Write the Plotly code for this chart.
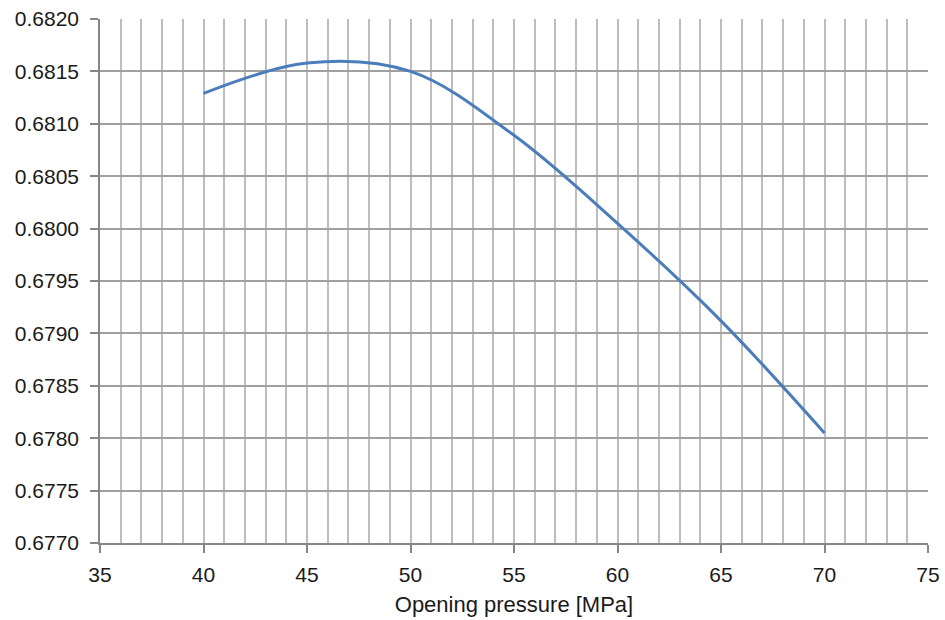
import plotly.graph_objects as go

pressure = [40, 45, 50, 55, 60, 65, 70]
ratio = [0.68129, 0.68158, 0.68150, 0.68089, 0.68005, 0.67912, 0.67805]

x_range = [35, 75]
y_range = [0.6770, 0.6820]
x_title = "Opening pressure [MPa]"

fig = go.Figure()
fig.add_trace(go.Scatter(x=pressure, y=ratio, mode="lines",
                         line=dict(color="#4a7ebb", width=3, shape="spline", smoothing=1.0),
                         showlegend=False, hoverinfo="skip"))

font = dict(family="Liberation Sans, Arial", size=21, color="#1a1a1a")
title_font = dict(family="Liberation Sans, Arial", size=22, color="#1a1a1a")

fig.update_layout(
    width=945, height=620,
    margin=dict(l=100, r=17, t=19, b=77, autoexpand=False),
    paper_bgcolor="white", plot_bgcolor="white",
    font=font,
)
fig.update_xaxes(
    range=x_range, dtick=5, tick0=35,
    showgrid=True, gridcolor="#bdbdbd", gridwidth=1.5,
    minor=dict(dtick=1, showgrid=True, gridcolor="#bdbdbd", gridwidth=1.5),
    showline=True, linecolor="#868686", linewidth=1.5,
    ticks="outside", ticklen=8, tickcolor="#868686", tickwidth=1.5,
    ticklabelstandoff=4, automargin=False,
    zeroline=False,
    title=dict(text=x_title, font=title_font, standoff=12),
)
fig.update_yaxes(
    range=y_range, dtick=0.0005, tick0=0.6770, tickformat=".4f",
    showgrid=True, gridcolor="#a0a0a0", gridwidth=1.5,
    showline=True, linecolor="#868686", linewidth=1.5,
    ticks="outside", ticklen=8, tickcolor="#868686", tickwidth=1.5,
    ticklabelstandoff=7, automargin=False,
    zeroline=False,
)

fig.write_html("out.html")
